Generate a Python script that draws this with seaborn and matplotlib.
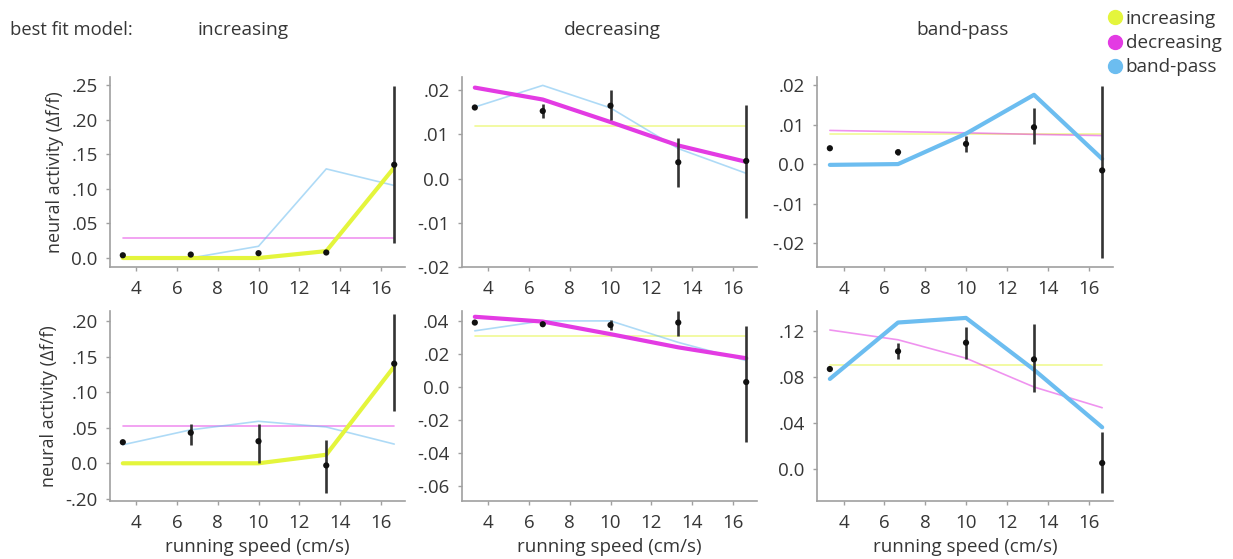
import matplotlib
matplotlib.use("Agg")
import matplotlib.pyplot as plt
from matplotlib.lines import Line2D
import numpy as np
import pandas as pd
import seaborn as sns

# running speed bins (cm/s)
speeds = [3.33, 6.67, 10.0, 13.33, 16.67]
models = ["increasing", "decreasing", "band-pass"]
model_colors = {"increasing": "#e4f53c", "decreasing": "#e33be3", "band-pass": "#6cbdf0"}

# top row: example neurons whose best fit is increasing / decreasing / band-pass
p1_mean = [0.004, 0.005, 0.007, 0.008, 0.135]
p1_low = [0.004, 0.005, 0.007, 0.008, 0.022]
p1_high = [0.004, 0.005, 0.007, 0.008, 0.249]
p1_inc = [0.0, 0.0, 0.0, 0.010, 0.131]
p1_dec = [0.029, 0.029, 0.029, 0.029, 0.029]
p1_bp = [0.0, 0.0, 0.017, 0.129, 0.105]

p2_mean = [0.0161, 0.0153, 0.0165, 0.0037, 0.0040]
p2_low = [0.0161, 0.0138, 0.0132, -0.0020, -0.0088]
p2_high = [0.0161, 0.0168, 0.0200, 0.0091, 0.0166]
p2_inc = [0.012, 0.012, 0.012, 0.012, 0.012]
p2_dec = [0.0206, 0.0179, 0.0128, 0.0075, 0.0038]
p2_bp = [0.0162, 0.0211, 0.0160, 0.0068, 0.0012]

p3_mean = [0.0040, 0.0030, 0.0051, 0.0093, -0.0016]
p3_low = [0.0040, 0.0022, 0.0030, 0.0051, -0.0237]
p3_high = [0.0040, 0.0038, 0.0070, 0.0141, 0.0198]
p3_inc = [0.0076, 0.0076, 0.0076, 0.0076, 0.0076]
p3_dec = [0.0085, 0.0082, 0.0079, 0.0075, 0.0072]
p3_bp = [-0.0002, 0.0, 0.0077, 0.0175, 0.0013]

# bottom row
p4_mean = [0.0296, 0.043, 0.031, -0.003, 0.140]
p4_low = [0.0296, 0.025, 0.0, -0.042, 0.074]
p4_high = [0.0296, 0.055, 0.055, 0.033, 0.210]
p4_inc = [0.0, 0.0, 0.0, 0.012, 0.136]
p4_dec = [0.053, 0.053, 0.053, 0.053, 0.053]
p4_bp = [0.026, 0.047, 0.059, 0.051, 0.027]

p5_mean = [0.039, 0.038, 0.0375, 0.039, 0.003]
p5_low = [0.039, 0.038, 0.0345, 0.031, -0.033]
p5_high = [0.039, 0.038, 0.0405, 0.046, 0.037]
p5_inc = [0.031, 0.031, 0.031, 0.031, 0.031]
p5_dec = [0.0425, 0.0396, 0.032, 0.024, 0.0174]
p5_bp = [0.034, 0.040, 0.040, 0.027, 0.016]

p6_mean = [0.0866, 0.102, 0.1095, 0.095, 0.005]
p6_low = [0.0866, 0.095, 0.095, 0.067, -0.021]
p6_high = [0.0866, 0.109, 0.123, 0.126, 0.032]
p6_inc = [0.090, 0.090, 0.090, 0.090, 0.090]
p6_dec = [0.1205, 0.112, 0.096, 0.071, 0.053]
p6_bp = [0.078, 0.127, 0.131, 0.086, 0.036]

# y ticks as printed in the figure (bottom-left really says "-.20")
yt_p1 = [0.0, 0.05, 0.10, 0.15, 0.20, 0.25]
yl_p1 = ["0.0", ".05", ".10", ".15", ".20", ".25"]
yt_p2 = [-0.02, -0.01, 0.0, 0.01, 0.02]
yl_p2 = ["-.02", "-.01", "0.0", ".01", ".02"]
yt_p4 = [-0.05, 0.0, 0.05, 0.10, 0.15, 0.20]
yl_p4 = ["-.20", "0.0", ".05", ".10", ".15", ".20"]
yt_p5 = [-0.06, -0.04, -0.02, 0.0, 0.02, 0.04]
yl_p5 = ["-.06", "-.04", "-.02", "0.0", ".02", ".04"]
yt_p6 = [0.0, 0.04, 0.08, 0.12]
yl_p6 = ["0.0", ".04", ".08", ".12"]

panels = [
    dict(mean=p1_mean, low=p1_low, high=p1_high, inc=p1_inc, dec=p1_dec, bp=p1_bp,
         best="increasing", ylim=(-0.013, 0.262), yt=yt_p1, yl=yl_p1),
    dict(mean=p2_mean, low=p2_low, high=p2_high, inc=p2_inc, dec=p2_dec, bp=p2_bp,
         best="decreasing", ylim=(-0.020, 0.023), yt=yt_p2, yl=yl_p2),
    dict(mean=p3_mean, low=p3_low, high=p3_high, inc=p3_inc, dec=p3_dec, bp=p3_bp,
         best="band-pass", ylim=(-0.026, 0.022), yt=yt_p2, yl=yl_p2),
    dict(mean=p4_mean, low=p4_low, high=p4_high, inc=p4_inc, dec=p4_dec, bp=p4_bp,
         best="increasing", ylim=(-0.053, 0.214), yt=yt_p4, yl=yl_p4),
    dict(mean=p5_mean, low=p5_low, high=p5_high, inc=p5_inc, dec=p5_dec, bp=p5_bp,
         best="decreasing", ylim=(-0.069, 0.046), yt=yt_p5, yl=yl_p5),
    dict(mean=p6_mean, low=p6_low, high=p6_high, inc=p6_inc, dec=p6_dec, bp=p6_bp,
         best="band-pass", ylim=(-0.028, 0.137), yt=yt_p6, yl=yl_p6),
]

sns.set_theme(style="ticks")
plt.rcParams["font.family"] = ["Open Sans", "DejaVu Sans"]
txt = "#363636"
grey = "#a0a0a0"

W, H = 1233, 559
fig = plt.figure(figsize=(W / 100, H / 100), dpi=100)

# axes boxes in pixels: (left, top, right, bottom)
lefts = [110, 462, 817]
rights = [405, 757, 1113]
tops = [77, 311]
bottoms = [267, 501]

for i, p in enumerate(panels):
    r, c = divmod(i, 3)
    ax = fig.add_axes([lefts[c] / W, 1 - bottoms[r] / H,
                       (rights[c] - lefts[c]) / W, (bottoms[r] - tops[r]) / H])

    # model fits: thin pale for the alternatives, thick for the best fit
    for m, vals in zip(models, [p["inc"], p["dec"], p["bp"]]):
        best = m == p["best"]
        sns.lineplot(x=speeds, y=vals, ax=ax, color=model_colors[m],
                     lw=3.0 if best else 1.2, alpha=1.0 if best else 0.55,
                     zorder=3 if best else 2, legend=False)

    # data: mean +- error
    err = np.array([np.array(p["mean"]) - np.array(p["low"]),
                    np.array(p["high"]) - np.array(p["mean"])])
    ax.errorbar(speeds, p["mean"], yerr=err, fmt="none", ecolor="#333333",
                elinewidth=1.9, capsize=0, zorder=4)
    sns.scatterplot(x=speeds, y=p["mean"], ax=ax, color="#111111", s=20,
                    edgecolor="none", zorder=5, legend=False)

    ax.set_xlim(2.7, 17.2)
    ax.set_xticks([4, 6, 8, 10, 12, 14, 16])
    ax.set_ylim(*p["ylim"])
    ax.set_yticks(p["yt"])
    ax.set_yticklabels(p["yl"])
    ax.tick_params(colors=grey, labelcolor=txt, labelsize=13.5, length=3,
                   width=1, pad=6)
    for s in ["left", "bottom"]:
        ax.spines[s].set_color(grey)
        ax.spines[s].set_linewidth(1.2)
    sns.despine(ax=ax)

    if c == 0:
        ax.set_ylabel("neural activity (\u0394f/f)", fontsize=13, color=txt,
                      labelpad=5)
    if r == 1:
        ax.set_xlabel("running speed (cm/s)", fontsize=13.5, color=txt,
                      labelpad=5)

# column headers
fig.text(10 / W, 1 - 30 / H, "best fit model:", fontsize=13.2, color=txt,
         va="center", ha="left")
for cx, name in zip([243, 612, 963], models):
    fig.text(cx / W, 1 - 30 / H, name, fontsize=13.8, color=txt,
             va="center", ha="center")

handles = [Line2D([], [], ls="none", marker="o", ms=10, color=model_colors[m],
                  label=m) for m in models]
fig.legend(handles=handles, loc="upper left",
           bbox_to_anchor=(1106 / W, 1 - 10 / H), frameon=False,
           fontsize=13.6, labelspacing=0.33, handletextpad=0.15,
           handlelength=0.9, borderaxespad=0, borderpad=0, labelcolor=txt)

fig.savefig("out.png", dpi=100)
